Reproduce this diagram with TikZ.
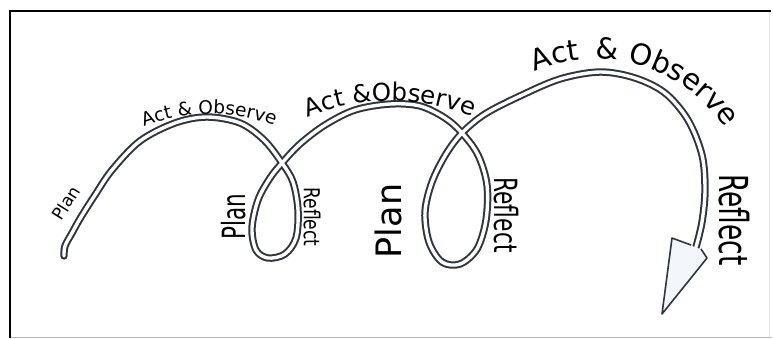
\documentclass[tikz,border=0pt]{standalone}
\usepackage{fontspec}
\setmainfont{DejaVu Sans}
\usetikzlibrary{decorations.text}
\definecolor{tube}{HTML}{2E3540}
\definecolor{headfill}{HTML}{F3F6FA}
\begin{document}
\begin{tikzpicture}[x=1pt,y=-1pt,
  tubeline/.style={draw=tube, line width=2pt, double=white, double distance=3.4pt, line cap=round, line join=round},
  lbl/.style={inner sep=0pt, text=black},
  arclbl/.style={decorate, decoration={text along path, text align=center, text={#1}}}
]
\useasboundingbox (0,0) rectangle (773,338);
% frame
\draw[gray!55, line width=1pt] (10,337) -- (772,337);
\draw[gray!20, line width=0.8pt] (769,11) -- (769,337);
\draw[black, line width=2.2pt] (10,338) -- (10,11) -- (771,11);

% spiral tube
\draw[tubeline] plot[smooth, tension=0.55] coordinates {
 (64,256) (65,246) (72,233) (81,217) (95,195) (112,170) (140,141) (175,123) (207,117)
 (240,123) (264,140) (282,163) (293,182) (298,210) (296,238) (285,254) (268,258)
 (256,250) (252,228) (258,200) (270,178) (282,163) (300,144) (325,125) (355,110)
 (390,104) (420,106) (445,118) (462,133) (478,155) (487,185) (486,220) (477,249)
 (460,264) (442,262) (429,242) (425,212) (432,182) (446,154) (462,133) (485,114)
 (520,96) (560,79) (600,72) (635,78) (665,93) (688,120) (702,155) (705,190)
 (702,222) (696,247)};

% arrow head
\fill[headfill] (672,238) -- (692,246) -- (700,249) -- (707,258) -- (662,314) -- cycle;
\draw[tube, line width=1.6pt, line join=round] (691,245) -- (672,238) -- (662,314) -- (707,258) -- (701,249);

% curved labels
\path[arclbl={|\fontsize{18.5}{18.5}\selectfont|Act {\&} Observe}]
  plot[domain=-123:-58, samples=40] ({210.6+181*cos(\x)}, {295+181*sin(\x)});
\path[arclbl={|\fontsize{24.5}{24.5}\selectfont|Act {\&}Observe}]
  plot[domain=-122:-58, samples=40] ({390+218*cos(\x)}, {319+218*sin(\x)});
\path[arclbl={|\fontsize{29}{29}\selectfont|Act {\hspace{6pt}}{\&} Observe}]
  plot[domain=-128:-19, samples=50] ({596+155*cos(\x)}, {214+155*sin(\x)});

% straight labels
\node[lbl, rotate=58] (plan0) at (66,203) {\fontsize{17}{17}\selectfont Plan};
\node[lbl, rotate=90] (plan1) at (234,217) {\fontsize{32}{32}\selectfont\scalebox{0.67}[1]{Plan}};
\node[lbl, rotate=-90] (refl1) at (312,217) {\fontsize{22}{22}\selectfont\scalebox{0.78}[1]{Reflect}};
\node[lbl, rotate=90] (plan2) at (388,221) {\fontsize{35}{35}\selectfont Plan};
\node[lbl, rotate=-90] (refl2) at (506,215) {\fontsize{32}{32}\selectfont\scalebox{0.68}[1]{Reflect}};
\node[lbl, rotate=-90] (refl3) at (734,220) {\fontsize{40}{40}\selectfont\scalebox{0.66}[1]{Reflect}};
\end{tikzpicture}
\end{document}
